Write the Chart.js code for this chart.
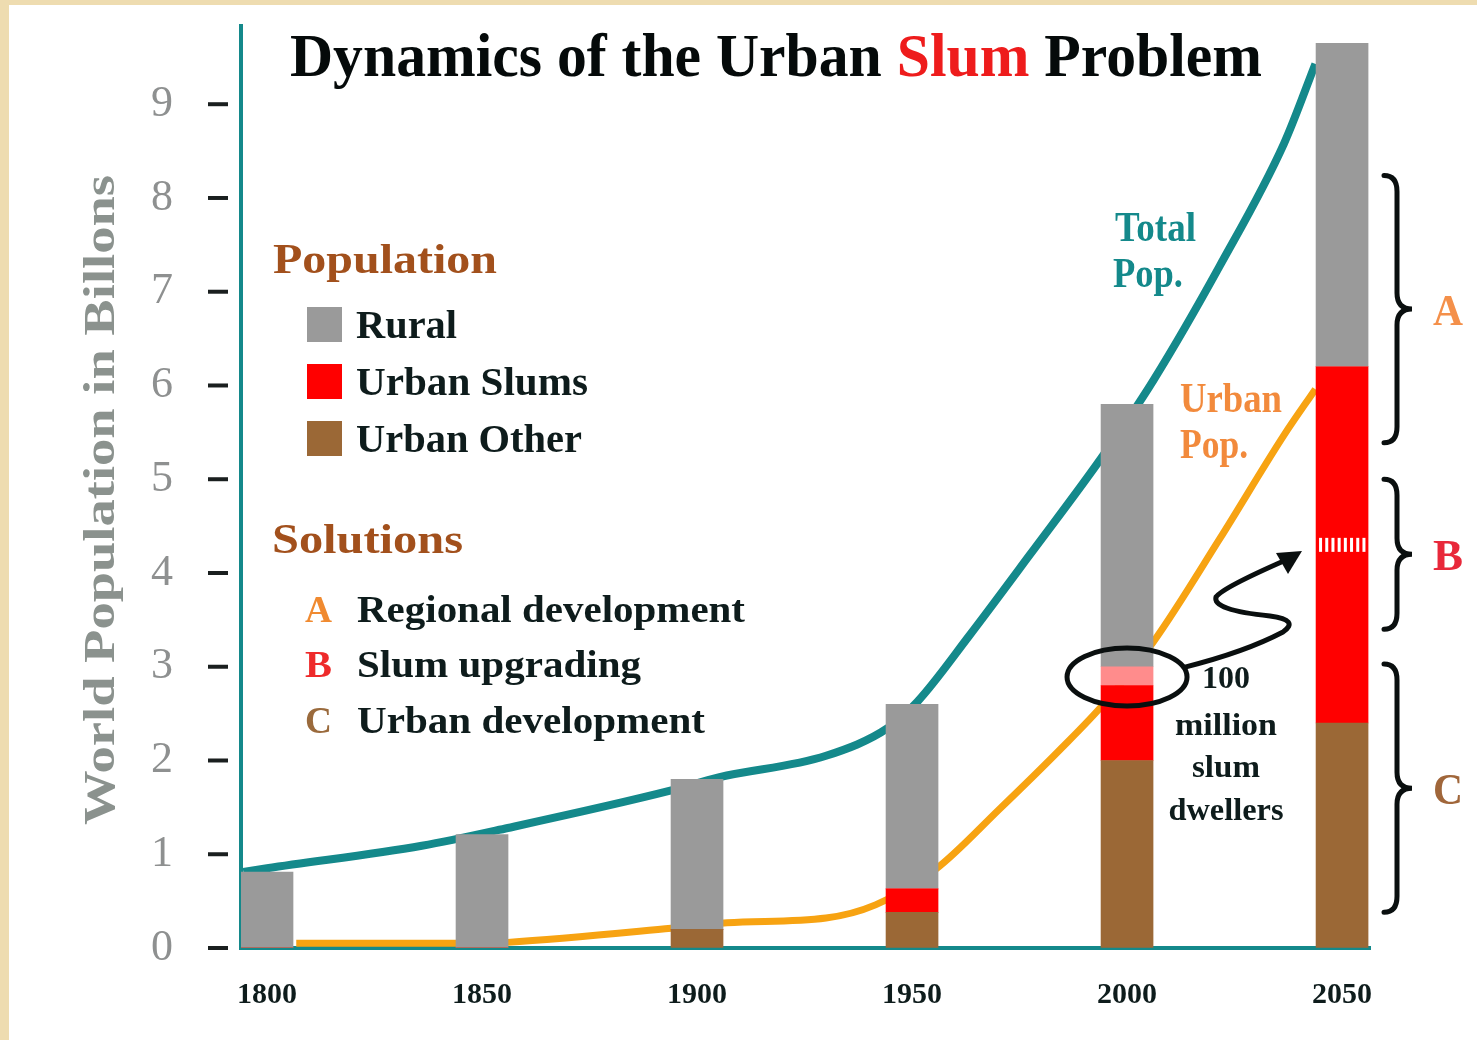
<!DOCTYPE html>
<html lang="en">
<head>
<meta charset="UTF-8">
<title>Dynamics of the Urban Slum Problem</title>
<script src="https://cdn.jsdelivr.net/npm/chart.js"></script>
<style>
  html, body { margin: 0; padding: 0; background: #eedcb0; }
  #wrap { width: 1477px; height: 1040px; position: relative; }
</style>
</head>
<body>
<div id="wrap"><canvas id="slumChart"></canvas></div>
<script>
// bars: world population split, billions
const years = [1800, 1850, 1900, 1950, 2000, 2050];
const urbanOther = [0, 0, 0.2, 0.38, 2.0, 2.4];
const urbanSlums = [0, 0, 0, 0.25, 0.8, 3.8];
const slumsUpgraded = [0, 0, 0, 0, 0.2, 0];   // the "100 million" band
const rural = [0.81, 1.21, 1.6, 1.97, 2.8, 3.45];

// curves
const totalYears = [1794.5, 1800, 1836, 1856, 1894, 1905, 1930, 1944.5, 1951.3, 1963.3, 1977.5, 1994.7, 2006.2, 2021.5, 2036.5, 2043.8];
const totalPop   = [0.81, 0.85, 1.09, 1.28, 1.68, 1.82, 2.05, 2.35, 2.63, 3.33, 4.2, 5.27, 6.06, 7.27, 8.58, 9.43];
const urbanYears = [1806.8, 1850, 1856, 1894, 1907, 1930, 1941.5, 1955.5, 1970.3, 1984.5, 1994.5, 2006.2, 2021.5, 2036.5, 2043.8];
const urbanPop   = [0.05, 0.05, 0.06, 0.21, 0.27, 0.32, 0.46, 0.84, 1.48, 2.12, 2.6, 3.27, 4.36, 5.47, 5.96];

const yTicks = [0, 1, 2, 3, 4, 5, 6, 7, 8, 9];

// solution ranges shown with braces (billions)
const solutions = [
  { key: 'A', from: 5.39, to: 8.24, color: '#f4904a' },
  { key: 'B', from: 3.40, to: 5.00, color: '#e8283a' },
  { key: 'C', from: 0.38, to: 3.03, color: '#a0663a' }
];
const upgradeMark = 4.3;      // dashed stripe on the 2050 bar
const dwellerMark = 2.89;     // ring around the 2000 bar

const TEAL = '#14898b', ORANGE = '#f7a312', GRAY = '#9a9a9a', RED = '#ff0000',
      PINK = '#ff8c8c', BROWN = '#9b6836', INK = '#0e1c1c', HEAD = '#a2501c';
const SERIF = '"Liberation Serif", "Times New Roman", serif';

function pts(vals) { return years.map((x, i) => ({ x: x, y: vals[i] })); }
function curve(xs, ys) { return xs.map((x, i) => ({ x: x, y: ys[i] })); }

// draw bold serif text, squeezed/stretched to a given width
function txt(ctx, s, x, y, size, color, w, align) {
  ctx.save();
  ctx.font = 'bold ' + size + 'px ' + SERIF;
  ctx.fillStyle = color;
  ctx.textBaseline = 'alphabetic';
  ctx.textAlign = align || 'left';
  const sx = w ? w / ctx.measureText(s).width : 1;
  ctx.translate(x, y);
  ctx.scale(sx, 1);
  ctx.fillText(s, 0, 0);
  ctx.restore();
}

function brace(ctx, xEnd, xSpine, xTip, yTop, yBot) {
  const m = (yTop + yBot) / 2, r = 16;
  ctx.beginPath();
  ctx.moveTo(xEnd, yTop);
  ctx.quadraticCurveTo(xSpine, yTop, xSpine, yTop + r);
  ctx.lineTo(xSpine, m - r);
  ctx.quadraticCurveTo(xSpine, m, xTip, m);
  ctx.quadraticCurveTo(xSpine, m, xSpine, m + r);
  ctx.lineTo(xSpine, yBot - r);
  ctx.quadraticCurveTo(xSpine, yBot, xEnd, yBot);
  ctx.stroke();
}

const decor = {
  id: 'decor',
  beforeDraw(chart) {
    const ctx = chart.ctx;
    ctx.save();
    ctx.fillStyle = '#eedcb0';
    ctx.fillRect(0, 0, chart.width, chart.height);
    ctx.fillStyle = '#ffffff';
    ctx.fillRect(9, 5, chart.width - 9, chart.height - 5);
    ctx.restore();
  },
  afterDatasetsDraw(chart) {
    const ctx = chart.ctx, xs = chart.scales.x, ys = chart.scales.y;
    ctx.save();
    // white dashes across the 2050 slum block
    const bx = xs.getPixelForValue(2050), sy = ys.getPixelForValue(upgradeMark);
    ctx.fillStyle = '#ffffff';
    for (let i = 0; i < 8; i++) ctx.fillRect(bx - 23 + i * 6.2, sy - 7, 3, 14);
    // ring around the upgraded band of 2000
    const ex = xs.getPixelForValue(2000), ey = ys.getPixelForValue(dwellerMark);
    ctx.strokeStyle = '#0a0f0f';
    ctx.lineWidth = 5;
    ctx.beginPath();
    ctx.ellipse(ex, ey, 60, 29, 0, 0, Math.PI * 2);
    ctx.stroke();
    // wiggly arrow to 2050
    ctx.lineJoin = 'round';
    ctx.lineCap = 'round';
    ctx.beginPath();
    ctx.moveTo(ex + 58, ey - 10);
    ctx.quadraticCurveTo(1245, 652, 1283, 632);
    ctx.quadraticCurveTo(1300, 620, 1270, 616);
    ctx.quadraticCurveTo(1212, 610, 1216, 597);
    ctx.quadraticCurveTo(1222, 588, 1286, 560);
    ctx.stroke();
    ctx.fillStyle = '#0a0f0f';
    ctx.beginPath();
    ctx.moveTo(1302, 551);
    ctx.lineTo(1276, 553);
    ctx.lineTo(1288, 574);
    ctx.closePath();
    ctx.fill();
    ctx.restore();
  },
  afterDraw(chart) {
    const ctx = chart.ctx, ys = chart.scales.y;
    ctx.save();
    // short tick dashes left of the y axis
    ctx.strokeStyle = '#1a1f1f';
    ctx.lineWidth = 4;
    yTicks.forEach(v => {
      const y = ys.getPixelForValue(v);
      ctx.beginPath();
      ctx.moveTo(208, y);
      ctx.lineTo(228, y);
      ctx.stroke();
    });

    // y title
    ctx.save();
    ctx.translate(114, 500);
    ctx.rotate(-Math.PI / 2);
    txt(ctx, 'World Population in Billons', 0, 0, 45, '#8b928e', 650, 'center');
    ctx.restore();

    // title with red "Slum"
    const parts = ['Dynamics of the Urban ', 'Slum', ' Problem'];
    const cols = ['#050a0a', '#ee1c1c', '#050a0a'];
    ctx.font = 'bold 62px ' + SERIF;
    const widths = parts.map(p => ctx.measureText(p).width);
    const k = 972 / widths.reduce((a, b) => a + b, 0);
    let tx = 290;
    parts.forEach((p, i) => {
      txt(ctx, p, tx, 76, 62, cols[i], widths[i] * k);
      tx += widths[i] * k;
    });

    // legend
    txt(ctx, 'Population', 273, 273, 42, HEAD, 224);
    const items = [['Rural', GRAY, 338, 101], ['Urban Slums', RED, 395, 232], ['Urban Other', BROWN, 452, 226]];
    items.forEach(it => {
      ctx.fillStyle = it[1];
      ctx.fillRect(307, it[2] - 31, 35, 35);
      txt(ctx, it[0], 356, it[2], 40, INK, it[3]);
    });
    txt(ctx, 'Solutions', 272, 553, 42, HEAD, 191);
    const sols = [['A', '#f08a30', 'Regional development', 622, 388],
                  ['B', '#ee2a2a', 'Slum upgrading', 677, 284],
                  ['C', '#9a6a3c', 'Urban development', 733, 348]];
    sols.forEach(s => {
      txt(ctx, s[0], 305, s[3], 38, s[1], 27);
      txt(ctx, s[2], 357, s[3], 38, INK, s[4]);
    });

    // curve labels
    txt(ctx, 'Total', 1115, 241, 42, TEAL, 81);
    txt(ctx, 'Pop.', 1113, 287, 42, TEAL, 70);
    txt(ctx, 'Urban', 1180, 412, 42, '#f28a3c', 102);
    txt(ctx, 'Pop.', 1180, 458, 42, '#f28a3c', 68);

    // slum dwellers note
    const note = [['100', 688, 48], ['million', 735, 102], ['slum', 777, 68], ['dwellers', 820, 115]];
    note.forEach(n => txt(ctx, n[0], 1226, n[1], 31, INK, n[2], 'center'));

    // braces with solution letters
    ctx.strokeStyle = '#0a0f0f';
    ctx.lineWidth = 5;
    ctx.lineCap = 'round';
    solutions.forEach(s => {
      const top = ys.getPixelForValue(s.to), bot = ys.getPixelForValue(s.from);
      brace(ctx, 1384, 1397, 1412, top, bot);
      txt(ctx, s.key, 1433, (top + bot) / 2 + 16, 44, s.color, 30);
    });
    ctx.restore();
  }
};

new Chart(document.getElementById('slumChart'), {
  type: 'bar',
  data: {
    datasets: [
      { label: 'Urban Other', data: pts(urbanOther), backgroundColor: BROWN, stack: 'pop', order: 0, barThickness: 52 },
      { label: 'Urban Slums', data: pts(urbanSlums), backgroundColor: RED, stack: 'pop', order: 0, barThickness: 52 },
      { label: 'Upgraded Slums', data: pts(slumsUpgraded), backgroundColor: PINK, stack: 'pop', order: 0, barThickness: 52 },
      { label: 'Rural', data: pts(rural), backgroundColor: GRAY, stack: 'pop', order: 0, barThickness: 52 },
      { type: 'line', label: 'Total Pop.', data: curve(totalYears, totalPop), borderColor: TEAL, borderWidth: 8,
        pointRadius: 0, fill: false, cubicInterpolationMode: 'monotone', stack: 'total', order: 1 },
      { type: 'line', label: 'Urban Pop.', data: curve(urbanYears, urbanPop), borderColor: ORANGE, borderWidth: 7,
        pointRadius: 0, fill: false, cubicInterpolationMode: 'monotone', stack: 'urban', order: 1 }
    ]
  },
  options: {
    responsive: true,
    maintainAspectRatio: false,
    animation: false,
    layout: { padding: { left: 10, top: 22, right: 107, bottom: 0 } },
    plugins: { legend: { display: false }, tooltip: { enabled: false } },
    scales: {
      x: {
        type: 'linear',
        offset: false,
        min: 1793.95,
        max: 2056.5,
        stacked: true,
        grid: { display: true, drawOnChartArea: false, drawTicks: true, tickLength: 29, tickColor: 'rgba(0,0,0,0)' },
        border: { color: TEAL, width: 4 },
        afterBuildTicks: s => { s.ticks = years.map(v => ({ value: v })); },
        afterFit: s => { s.height = 92; },
        ticks: { color: INK, padding: 0, maxRotation: 0, font: { family: SERIF, size: 30, weight: 'bold' },
                 callback: v => String(v) }
      },
      y: {
        min: 0,
        max: 9.83,
        stacked: true,
        grid: { display: true, drawOnChartArea: false, drawTicks: true, tickLength: 68, tickColor: 'rgba(0,0,0,0)' },
        border: { color: TEAL, width: 4 },
        afterBuildTicks: s => { s.ticks = yTicks.map(v => ({ value: v })); },
        afterFit: s => { s.width = 231; },
        ticks: { color: '#8e9090', padding: 0, font: { family: SERIF, size: 44 } }
      }
    }
  },
  plugins: [decor]
});
</script>
</body>
</html>
